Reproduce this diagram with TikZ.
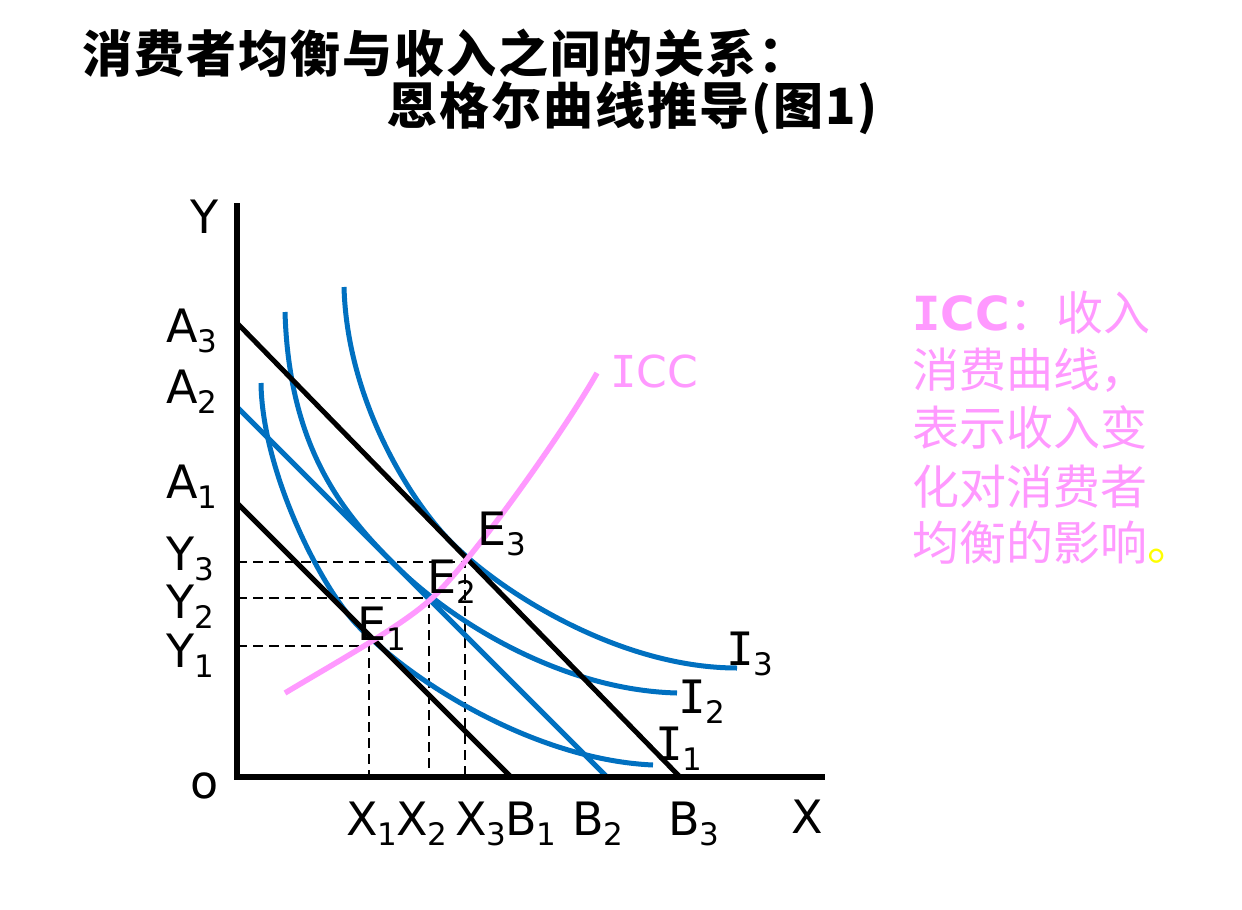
\documentclass[tikz,border=0pt]{standalone}
\usepackage{fontspec}
\newfontfamily\lab{DejaVu Sans}
\newfontfamily\labmono{DejaVu Sans Mono}
\newfontfamily\cjk{Noto Sans CJK SC}
\newfontfamily\cjkt{Noto Sans CJK SC}[LetterSpace=4]
\definecolor{ibl}{RGB}{0,112,192}
\definecolor{iccpink}{RGB}{255,153,255}
\definecolor{dotyellow}{RGB}{255,255,0}
\newcommand{\sbs}[1]{\raisebox{-10pt}{\fontsize{31}{31}\selectfont #1}}
\begin{document}
\begin{tikzpicture}[x=1pt,y=-1pt,
  axisline/.style={line width=5.5pt, line join=miter},
  budget/.style={line width=5pt},
  indiff/.style={ibl, line width=5pt},
  guide/.style={line width=1.5pt, dash pattern=on 10pt off 6pt},
  iccline/.style={iccpink, line width=5.5pt},
  lbl/.style={inner sep=0pt, anchor=base west, font=\lab\fontsize{46}{46}\selectfont},
  pinktxt/.style={inner sep=0pt, anchor=base west, text=iccpink, font=\cjk\fontsize{47}{47}\selectfont},
  titletxt/.style={inner sep=0pt, anchor=base west, font=\cjkt\bfseries\fontsize{50}{50}\selectfont},
]
\useasboundingbox[fill=white] (0,0) rectangle (1242,910);

% title
\node[titletxt] (t1) at (82,72) {消费者均衡与收入之间的关系：};
\node[titletxt] (t2) at (387,124) {恩格尔曲线推导(图1)};

% axes
\coordinate (O) at (237,777);
\coordinate (Ytop) at (237,203);
\coordinate (Xend) at (825,777);

% budget lines
\coordinate (A3) at (237,323); \coordinate (B3) at (680,777);
\coordinate (A2) at (237,407); \coordinate (B2) at (607,777);
\coordinate (A1) at (237,503); \coordinate (B1) at (511,777);

% equilibrium points
\coordinate (E1) at (369,646);
\coordinate (E2) at (429,598);
\coordinate (E3) at (465,562);

% guides
\draw[guide] (E1 -| O) -- (E1) -- (E1 |- O);
\draw[guide] (E2 -| O) -- (E2) -- (E2 |- O);
\draw[guide] (E3 -| O) -- (E3) -- (E3 |- O);

% indifference curves
\draw[indiff] (261,383) .. controls (262,470) and (320,588) .. (360,628)
                        .. controls (420,688) and (540,760) .. (653,765);
\draw[indiff] (285,312) .. controls (289,450) and (345,515) .. (395,565)
                        .. controls (450,620) and (560,690) .. (677,693);
\draw[indiff] (344,287) .. controls (347,400) and (410,500) .. (450,541)
                        .. controls (500,592) and (620,668) .. (737,668);

% budget lines
\draw[budget] (A3) -- (B3);
\draw[budget, ibl] (A2) -- (B2);
\draw[budget] (A1) -- (B1);

% ICC
\draw[iccline] (285,693) .. controls (335,663) and (400,627) .. (430,600)
                         .. controls (470,564) and (565,430) .. (597,373);

\draw[axisline] (Ytop) -- (O) -- (Xend);

% labels
\node[lbl] (ly) at (190,233) {Y};
\node[lbl] (la3) at (166,342) {A\sbs{3}};
\node[lbl] (la2) at (166,403) {A\sbs{2}};
\node[lbl] (la1) at (166,498) {A\sbs{1}};
\node[lbl] (ly3) at (166,570) {Y\sbs{3}};
\node[lbl] (ly2) at (166,618) {Y\sbs{2}};
\node[lbl] (ly1) at (166,667) {Y\sbs{1}};
\node[lbl] (lo) at (190,798) {o};
\node[lbl] (lx1) at (346,835) {X\sbs{1}};
\node[lbl] (lx2) at (396,835) {X\sbs{2}};
\node[lbl] (lx3) at (455,835) {X\sbs{3}};
\node[lbl] (lb1) at (505,835) {B\sbs{1}};
\node[lbl] (lb2) at (572,835) {B\sbs{2}};
\node[lbl] (lb3) at (668,835) {B\sbs{3}};
\node[lbl] (lx) at (791,833) {X};
\node[lbl] (li3) at (726,665) {{\labmono I}\sbs{3}};
\node[lbl] (li2) at (678,713) {{\labmono I}\sbs{2}};
\node[lbl] (li1) at (655,760) {{\labmono I}\sbs{1}};
\node[lbl] (le3) at (477,545) {E\sbs{3}};
\node[lbl] (le2) at (427,593) {E\sbs{2}};
\node[lbl] (le1) at (357,640) {E\sbs{1}};
\node[lbl, text=iccpink, font=\lab\fontsize{44}{44}\selectfont] (licc) at (610,387) {{\labmono I}CC};

% pink explanation
\node[pinktxt] (p1) at (912,330) {{\labmono\bfseries I}{\lab\bfseries CC}：收入};
\node[pinktxt] (p2) at (912,387) {消费曲线，};
\node[pinktxt] (p3) at (912,445) {表示收入变};
\node[pinktxt] (p4) at (912,504) {化对消费者};
\node[pinktxt] (p5) at (912,560) {均衡的影响{\color{dotyellow}。}};
\end{tikzpicture}
\end{document}
